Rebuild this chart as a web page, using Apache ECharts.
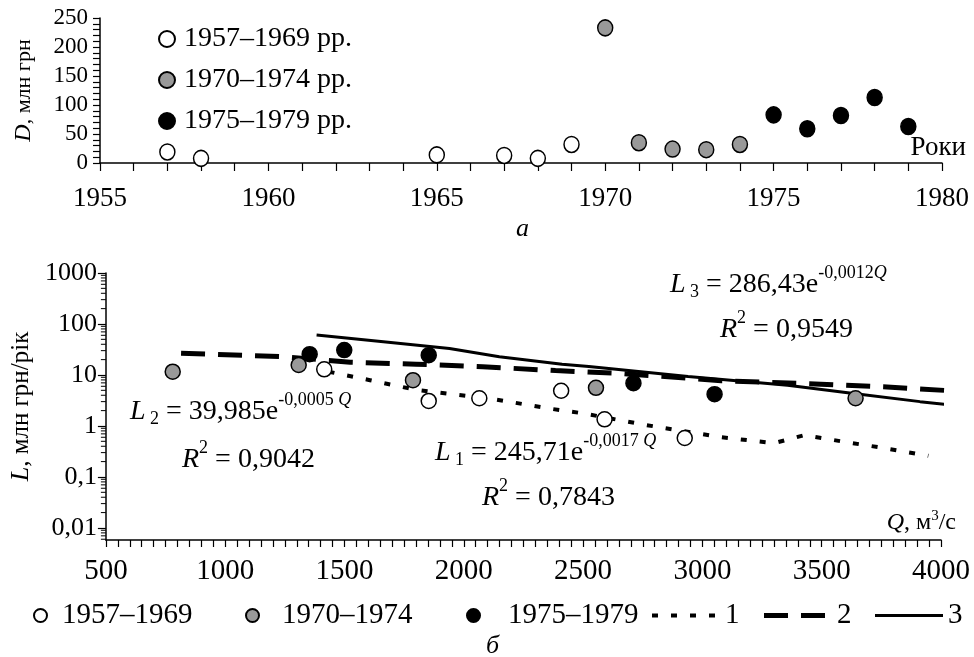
<!DOCTYPE html>
<html lang="uk">
<head>
<meta charset="UTF-8">
<title>D та L</title>
<style>
    html, body { margin: 0; padding: 0; background: #fff; }
    #main { width: 974px; height: 657px; }
</style>
</head>
<body>
<div id="main"></div>
<script src="https://cdn.jsdelivr.net/npm/echarts@6/dist/echarts.min.js"></script>
<script>
// --- графік а: D по роках
var years1 = [1957, 1958, 1965, 1967, 1968, 1969];
var d1 = [19, 8, 14, 13, 8, 32];
var years2 = [1970, 1971, 1972, 1973, 1974];
var d2 = [233, 35, 24, 23, 32];
var years3 = [1975, 1976, 1977, 1978, 1979];
var d3 = [83, 59, 82, 113, 63];
var topNames = ['1957–1969 рр.', '1970–1974 рр.', '1975–1979 рр.'];

// --- графік б: L від Q
var q1 = [1415, 1853, 2065, 2408, 2590, 2926];
var l1 = [12.9, 3.1, 3.5, 4.9, 1.35, 0.58];
var q2 = [780, 1308, 1787, 2554, 3642];
var l2 = [11.6, 15.7, 7.9, 5.6, 3.5];
var q3 = [1354, 1499, 1853, 2711, 3051];
var l3 = [25.6, 30.8, 24.5, 6.9, 4.2];
var botNames = ['1957–1969', '1970–1974', '1975–1979'];

// лінії тренду
var trend1Q = [1433, 1607, 1801, 2135, 2357, 2496, 2760, 3079, 3301, 3427, 3593, 3774, 3947];
var trend1L = [11.6, 7.9, 5.1, 3.3, 2.2, 1.78, 1.05, 0.6, 0.46, 0.66, 0.49, 0.36, 0.26];
var trend2Q = [815, 1246, 1524, 1800, 2079, 2384, 2663, 3079, 3496, 3774, 4107];
var trend2L = [26.6, 22.8, 17.8, 16.3, 14.5, 12.2, 10.7, 7.7, 6.6, 5.8, 4.7];
var trend3Q = [1383, 1663, 1940, 2149, 2412, 2524, 2940, 3357, 3634, 3912, 4086];
var trend3L = [60.8, 45, 33, 22.8, 16.3, 14.6, 9.3, 6.3, 4.35, 3.0, 2.46];
var lineNames = ['1', '2', '3'];

// дрібні поділки логарифмічної осі (2..9 у кожній декаді)
var decades = [0.001, 0.01, 0.1, 1, 10, 100];
var minorMult = [2, 3, 4, 5, 6, 7, 8, 9];

var FONT = 'Liberation Serif';
var fills = ['#ffffff', '#999999', '#000000'];
var dashes = [[6, 13], [24, 13], 'solid'];
var widths = [4, 5, 3];

function zip(xs, ys) {
    return xs.map(function (x, i) { return [x, ys[i]]; });
}
function comma(v) {
    return String(Number(v.toPrecision(6))).replace('.', ',');
}

var logMinor = [];
decades.forEach(function (d) {
    minorMult.forEach(function (m) {
        var v = d * m;
        if (v > 0.0058 && v < 1000) logMinor.push([500, v]);
    });
});

var myChart = echarts.init(document.getElementById('main'));

var eqRich = {
    i: { fontStyle: 'italic', fontFamily: FONT, fontSize: 28, color: '#000' },
    n: { fontFamily: FONT, fontSize: 28, color: '#000' },
    sub: { fontFamily: FONT, fontSize: 18, color: '#000', padding: [14, 0, 0, 0] },
    sup: { fontFamily: FONT, fontSize: 18, color: '#000', padding: [0, 0, 24, 0] },
    supi: { fontFamily: FONT, fontStyle: 'italic', fontSize: 18, color: '#000', padding: [0, 0, 24, 0] }
};
function eq(x, y, text) {
    return {
        type: 'text', left: x, top: y - 21,
        style: { text: text, rich: eqRich, fontFamily: FONT, fontSize: 28, fill: '#000' }
    };
}

function scatter(name, data, idx, fill, size) {
    return {
        name: name, type: 'scatter', xAxisIndex: idx, yAxisIndex: idx,
        data: data, symbol: 'circle', symbolSize: size, z: 5,
        itemStyle: { color: fill, borderColor: '#000', borderWidth: 1.5, opacity: 1 }
    };
}
function trend(i, data) {
    return {
        name: lineNames[i], type: 'line', xAxisIndex: 1, yAxisIndex: 1,
        data: data, showSymbol: false, symbol: 'none', clip: false, z: 3,
        itemStyle: { color: '#000' },
        lineStyle: { color: '#000', width: widths[i], type: dashes[i] }
    };
}

var axisCommon = {
    axisLine: { show: true, lineStyle: { color: '#000', width: 1.5 } },
    splitLine: { show: false }
};
var tickStyle = { color: '#000', width: 1.2 };

var legendText = { fontFamily: FONT, fontSize: 29, color: '#000' };
function botLegend(name, left, gap) {
    return {
        data: [name], left: left, top: 601, padding: 0, itemWidth: 13, itemHeight: 13,
        icon: 'circle', selectedMode: false,
        textStyle: Object.assign({ padding: [0, 0, 0, gap] }, legendText)
    };
}

var option = {
    animation: false,
    backgroundColor: '#fff',
    grid: [
        { left: 100, right: 32, top: 18, height: 145 },
        { left: 101, right: 33, top: 273, height: 267 }
    ],
    xAxis: [
        Object.assign({}, axisCommon, {
            type: 'value', gridIndex: 0, min: 1955, max: 1980, interval: 5,
            axisTick: { show: true, length: 8, lineStyle: tickStyle },
            minorTick: { show: true, splitNumber: 5, length: 8, lineStyle: tickStyle },
            axisLabel: { fontFamily: FONT, fontSize: 27, color: '#000', margin: 22, formatter: function (v) { return String(v); } },
            name: 'Роки', nameLocation: 'end', nameGap: 24,
            nameTextStyle: { fontFamily: FONT, fontSize: 27, color: '#000', align: 'right', verticalAlign: 'bottom', padding: [0, 0, 2, 0] }
        }),
        Object.assign({}, axisCommon, {
            type: 'value', gridIndex: 1, min: 500, max: 4000, interval: 500,
            axisTick: { show: true, length: 7, lineStyle: tickStyle },
            minorTick: { show: true, splitNumber: 10, length: 7, lineStyle: tickStyle },
            axisLabel: { fontFamily: FONT, fontSize: 29, color: '#000', margin: 17, formatter: function (v) { return String(v); } },
            name: '{i|Q}{n|, м}{s|3}{n|/с}', nameLocation: 'end', nameGap: 15,
            nameTextStyle: {
                align: 'right', verticalAlign: 'bottom', padding: [0, 0, 4, 0],
                rich: {
                    i: { fontFamily: FONT, fontStyle: 'italic', fontSize: 24, color: '#000' },
                    n: { fontFamily: FONT, fontSize: 24, color: '#000' },
                    s: { fontFamily: FONT, fontSize: 15, color: '#000', padding: [0, 0, 12, 0] }
                }
            }
        })
    ],
    yAxis: [
        Object.assign({}, axisCommon, {
            type: 'value', gridIndex: 0, min: 0, max: 250, interval: 50,
            axisTick: { show: true, length: 7, lineStyle: tickStyle },
            minorTick: { show: true, splitNumber: 5, length: 7, lineStyle: tickStyle },
            axisLabel: { fontFamily: FONT, fontSize: 23, color: '#000', margin: 12 },
            name: '{i|D}{n|, млн грн}', nameLocation: 'middle', nameGap: 64, nameRotate: 90,
            nameTextStyle: {
                rich: {
                    i: { fontFamily: FONT, fontStyle: 'italic', fontSize: 24, color: '#000' },
                    n: { fontFamily: FONT, fontSize: 22, color: '#000' }
                }
            }
        }),
        Object.assign({}, axisCommon, {
            type: 'log', logBase: 10, gridIndex: 1, min: 0.0058, max: 1000,
            axisTick: { show: true, length: 8, lineStyle: tickStyle },
            minorTick: { show: false },
            axisLabel: { fontFamily: FONT, fontSize: 26, color: '#000', margin: 9, showMinLabel: false, formatter: comma },
            name: '{i|L}{n|, млн грн/рік}', nameLocation: 'middle', nameGap: 66, nameRotate: 90,
            nameTextStyle: {
                rich: {
                    i: { fontFamily: FONT, fontStyle: 'italic', fontSize: 26, color: '#000' },
                    n: { fontFamily: FONT, fontSize: 25, color: '#000' }
                }
            }
        })
    ],
    legend: [
        {
            data: topNames, orient: 'vertical', left: 153, top: 20, itemWidth: 24, itemHeight: 16,
            itemGap: 13, icon: 'circle', textStyle: { fontFamily: FONT, fontSize: 28, color: '#000' },
            selectedMode: false
        },
        botLegend(botNames[0], 33, 10),
        botLegend(botNames[1], 245, 18),
        botLegend(botNames[2], 466, 23),
        {
            data: lineNames.map(function (n, i) {
                return { name: n, lineStyle: { color: '#000', width: widths[i], type: dashes[i] } };
            }),
            left: 650, top: 601, padding: 0, width: 320, itemWidth: 68, itemHeight: 14, itemGap: 22,
            textStyle: legendText, selectedMode: false, itemStyle: { opacity: 0 }
        }
    ],
    graphic: [
        { type: 'text', left: 516, top: 216, style: { text: 'а', font: 'italic 26px "Liberation Serif"', fill: '#000' } },
        { type: 'text', left: 486, top: 633, style: { text: 'б', font: 'italic 26px "Liberation Serif"', fill: '#000' } },
        eq(670, 285, '{i|L}{sub| 3}{n| = 286,43e}{sup|-0,0012}{supi|Q}'),
        eq(720, 330, '{i|R}{sup|2}{n| = 0,9549}'),
        eq(130, 412, '{i|L}{sub| 2}{n| = 39,985e}{sup|-0,0005 }{supi|Q}'),
        eq(182, 460, '{i|R}{sup|2}{n| = 0,9042}'),
        eq(435, 453, '{i|L}{sub| 1}{n| = 245,71e}{sup|-0,0017 }{supi|Q}'),
        eq(482, 498, '{i|R}{sup|2}{n| = 0,7843}')
    ],
    series: [
        scatter(topNames[0], zip(years1, d1), 0, fills[0], [15, 16]),
        scatter(topNames[1], zip(years2, d2), 0, fills[1], [15, 16]),
        scatter(topNames[2], zip(years3, d3), 0, fills[2], [15, 16]),
        trend(0, zip(trend1Q, trend1L)),
        trend(1, zip(trend2Q, trend2L)),
        trend(2, zip(trend3Q, trend3L)),
        scatter(botNames[0], zip(q1, l1), 1, fills[0], 15),
        scatter(botNames[1], zip(q2, l2), 1, fills[1], 15),
        scatter(botNames[2], zip(q3, l3), 1, fills[2], 15),
        {
            // дрібні поділки лог-осі
            type: 'custom', xAxisIndex: 1, yAxisIndex: 1, data: logMinor, clip: false, silent: true,
            renderItem: function (params, api) {
                var p = api.coord([api.value(0), api.value(1)]);
                return {
                    type: 'line',
                    shape: { x1: p[0] - 5, y1: p[1], x2: p[0], y2: p[1] },
                    style: { stroke: '#000', lineWidth: 1 }
                };
            }
        }
    ]
};
myChart.setOption(option);
</script>
</body>
</html>
